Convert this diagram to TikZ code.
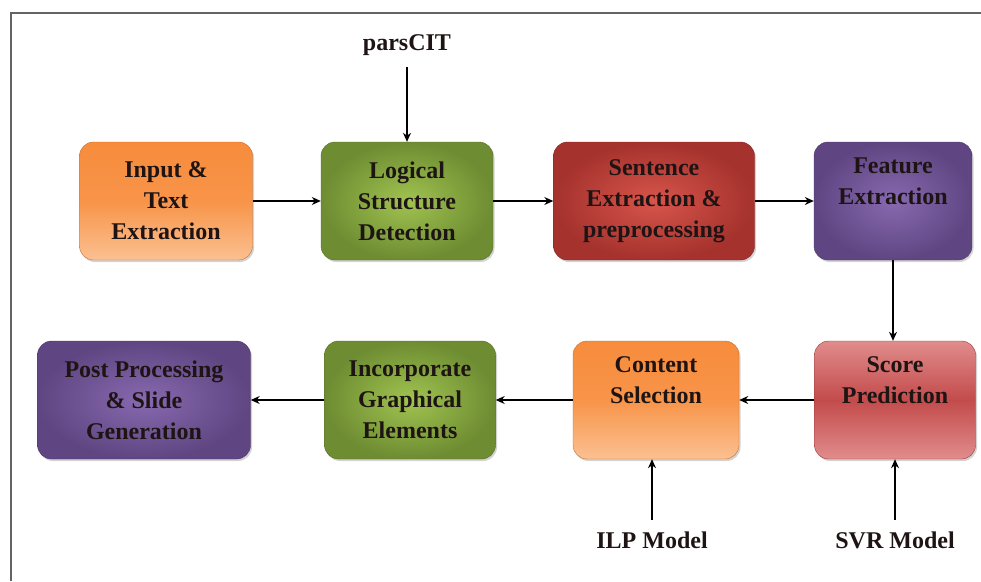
\documentclass[tikz,border=0pt]{standalone}
\usepackage{fontspec}
\setmainfont{Liberation Serif}
\usepackage{tikz}
\usetikzlibrary{positioning, arrows.meta, shadows}
\definecolor{frameline}{RGB}{100,100,100}
\definecolor{orangedark}{RGB}{247,140,60}
\definecolor{orangelight}{RGB}{251,192,145}
\definecolor{greendark}{RGB}{110,140,50}
\definecolor{greenlight}{RGB}{160,195,80}
\definecolor{reddark}{RGB}{165,50,45}
\definecolor{redlight}{RGB}{215,85,75}
\definecolor{purpledark}{RGB}{95,70,130}
\definecolor{purplelight}{RGB}{135,105,175}
\definecolor{pinklight}{RGB}{225,140,140}
\definecolor{pinkdark}{RGB}{195,75,75}
\definecolor{inktext}{RGB}{30,20,20}

\tikzset{
  stage/.style={rounded corners=14pt, minimum height=118pt, align=center,
    font=\bfseries\fontsize{24}{31}\selectfont, text=inktext,
    drop shadow={shadow xshift=1.5pt, shadow yshift=-2pt, opacity=0.35}},
  orangebox/.style={stage, draw=orangedark!80!black, top color=orangedark, bottom color=orangelight, middle color=orangedark!85!orangelight},
  greenbox/.style={stage, draw=greendark!80!black, inner color=greenlight, outer color=greendark},
  redbox/.style={stage, draw=reddark!80!black, inner color=redlight, outer color=reddark},
  purplebox/.style={stage, draw=purpledark!80!black, inner color=purplelight, outer color=purpledark},
  pinkbox/.style={stage, draw=pinkdark!80!black, top color=pinklight, bottom color=pinklight, middle color=pinkdark},
  model/.style={font=\bfseries\fontsize{24}{28}\selectfont, text=inktext},
  flow/.style={-{Stealth[length=9pt, width=8pt]}, line width=1.2pt, black}
}

\begin{document}
\begin{tikzpicture}[x=1pt, y=-1pt, >=Stealth]
  \useasboundingbox (0,0) rectangle (981,581);

  % Frame
  \draw[frameline, line width=2pt] (11,581) -- (11,13) -- (981,13);

  % Top row
  \node[orangebox, minimum width=173pt] (input) at (166,201) {Input \&\\Text\\Extraction};
  \node[greenbox, minimum width=172pt] (logical) at (407,201) {Logical\\Structure\\Detection};
  \node[redbox, minimum width=201pt] (sentence) at (654,201) {Sentence\\Extraction \&\\preprocessing};
  \node[purplebox, minimum width=158pt] (feature) at (893,201) {Feature\\Extraction\\[8pt]\mbox{}};

  % Bottom row
  \node[purplebox, minimum width=213pt] (post) at (144,400) {Post Processing\\\& Slide\\Generation};
  \node[greenbox, minimum width=171pt] (incorp) at (410,400) {Incorporate\\Graphical\\Elements};
  \node[orangebox, minimum width=166pt] (content) at (656,400) {Content\\Selection\\[8pt]\mbox{}};
  \node[pinkbox, minimum width=161pt] (score) at (895,400) {Score\\Prediction\\[8pt]\mbox{}};

  % Outside inputs
  \node[model] (parscit) at (407,45) {parsCIT};
  \node[model] (ilp) at (652,540) {ILP Model};
  \node[model] (svr) at (895,540) {SVR Model};

  % Connectors
  \draw[flow] (input) -- (logical);
  \draw[flow] (logical) -- (sentence);
  \draw[flow] (sentence) -- (feature);
  \draw[flow] (feature) -- (feature |- score.north);
  \draw[flow] (score) -- (content);
  \draw[flow] (content) -- (incorp);
  \draw[flow] (incorp) -- (post);
  \draw[flow] (parscit.south) ++(0,8) -- (logical.north);
  \draw[flow] (ilp.north) ++(0,-8) -- (content.south -| ilp.north);
  \draw[flow] (svr.north) ++(0,-8) -- (score.south);
\end{tikzpicture}
\end{document}
